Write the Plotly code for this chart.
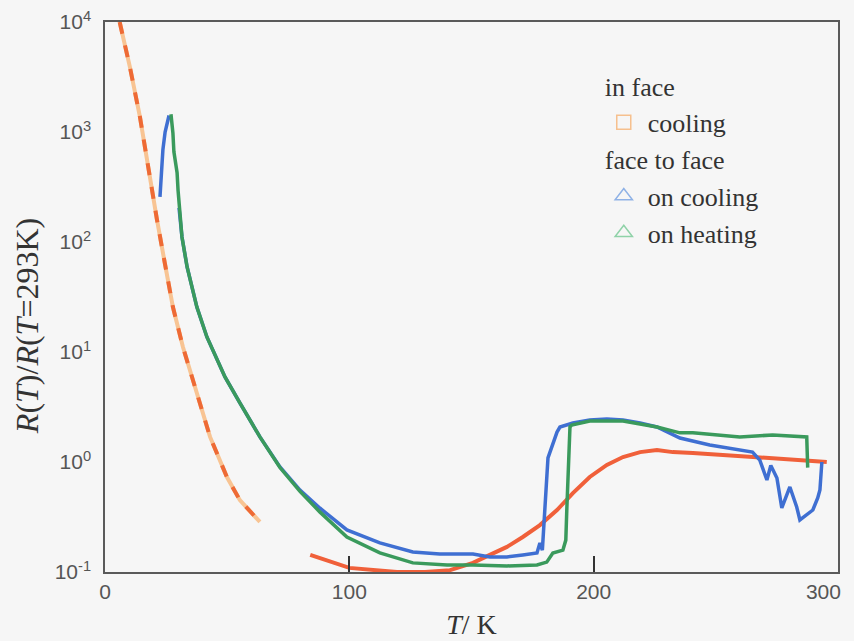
import plotly.graph_objects as go

# ---------------- data ----------------
# in face, cooling: low-temperature segment
inface_T_low = [6, 10.2, 14.3, 18.4, 21.3, 24.5, 27.8, 31.9, 34.8, 38.9, 43.0, 49.9, 55.2, 63.4]
inface_R_low = [10000, 3890, 1370, 366, 158, 64, 25.6, 11.1, 6.9, 3.44, 1.69, 0.73, 0.45, 0.285]

# in face, cooling: high-temperature segment
inface_T_high = [84, 100, 119.5, 131, 141.2, 150.6, 157.5, 164.5, 171, 178, 185, 191.5, 198.4,
                 205.4, 212, 219, 225.9, 232.4, 240.6, 268, 295.4]
inface_R_high = [0.143, 0.109, 0.100, 0.100, 0.104, 0.121, 0.143, 0.169, 0.208, 0.267, 0.366,
                 0.522, 0.731, 0.94, 1.11, 1.23, 1.285, 1.23, 1.21, 1.09, 1.0]

# face to face, on cooling
f2f_cool_T = [22.5, 23.7, 24.6, 26.2, None, 30.3, 31.5, 33.6, 37.6, 41.7, 49.1, 55.2, 63.4, 71.6,
              79.8, 88, 99, 112.5, 126, 137, 150.6, 157.5, 164.5, 171, 176.8, 178, 179, 181.3,
              183, 185, 186.2, 191.5, 198.4, 205.4, 212, 219, 225.9, 235.3, 247.5, 265, 268,
              270.9, 272.5, 275, 277, 280.3, 283.1, 284.4, 289.7, 291.7, 292.6, 293.4]
f2f_cool_R = [257, 692, 1000, 1413, None, 204, 111, 59.3, 25.6, 13.7, 5.93, 3.44, 1.69, 0.902,
              0.556, 0.38, 0.241, 0.184, 0.152, 0.146, 0.146, 0.137, 0.137, 0.143, 0.149, 0.184,
              0.158, 1.09, 1.37, 1.87, 2.08, 2.26, 2.41, 2.46, 2.41, 2.26, 2.08, 1.65, 1.43, 1.23,
              1.04, 0.686, 0.93, 0.716, 0.382, 0.593, 0.39, 0.297, 0.366, 0.471, 0.556, 1.0]

# face to face, on heating
f2f_heat_T = [27.0, 27.4, 27.8, 28.2, 29.5, 29.9, 31.5, 33.6, 37.6, 41.7, 49.1, 55.2, 63.4, 71.6,
              79.8, 88, 99, 112.5, 126, 140, 150.6, 164.5, 176.8, 180.8, 183.3, 187.4, 188.6,
              189, 190.3, 191, 198.4, 212, 225.9, 235.3, 240.6, 259.8, 273.3, 287.2, 287.6]
f2f_heat_R = [1450, 1230, 977, 661, 427, 295, 111, 59.3, 25.6, 13.7, 5.93, 3.44, 1.69, 0.89,
              0.54, 0.35, 0.208, 0.149, 0.121, 0.116, 0.116, 0.1135, 0.116, 0.123, 0.149, 0.158,
              0.195, 0.366, 2.08, 2.17, 2.36, 2.36, 2.08, 1.84, 1.84, 1.69, 1.76, 1.69, 0.89]

x_ticks = [0, 100, 200, 300]
x_ticktext = ["0", "100", "200", "300\u00a0\u00a0\u00a0\u00a0\u00a0"]
y_ticks = [0.1, 1, 10, 100, 1000, 10000]
y_ticktext = ["10<sup>-1</sup>", "10<sup>0</sup>", "10<sup>1</sup>", "10<sup>2</sup>",
              "10<sup>3</sup>", "10<sup>4</sup>"]

# ---------------- figure ----------------
fig = go.Figure()

# in face cooling (low T): light orange under a darker dashed orange
fig.add_trace(go.Scatter(x=inface_T_low, y=inface_R_low, mode="lines",
                         line=dict(color="#f8c493", width=4), showlegend=False, hoverinfo="skip"))
fig.add_trace(go.Scatter(x=inface_T_low, y=inface_R_low, mode="lines",
                         line=dict(color="#ee6a35", width=4, dash="dash"), showlegend=False))
# in face cooling (high T)
fig.add_trace(go.Scatter(x=inface_T_high, y=inface_R_high, mode="lines",
                         line=dict(color="#f0603a", width=4), showlegend=False))
# face to face, on cooling
fig.add_trace(go.Scatter(x=f2f_cool_T, y=f2f_cool_R, mode="lines",
                         line=dict(color="#3f6fd2", width=3.5), showlegend=False))
# face to face, on heating
fig.add_trace(go.Scatter(x=f2f_heat_T, y=f2f_heat_R, mode="lines",
                         line=dict(color="#3a9a5c", width=3.5), showlegend=False))

# legend entries
fig.add_trace(go.Scatter(x=[None], y=[None], mode="markers", name="cooling",
                         marker=dict(symbol="square-open", size=14, color="#f6c08e",
                                     line=dict(width=1.5)),
                         legendgroup="in", legendgrouptitle=dict(text="in face")))
fig.add_trace(go.Scatter(x=[None], y=[None], mode="markers", name="on cooling",
                         marker=dict(symbol="triangle-up-open", size=15, color="#8fb2e6",
                                     line=dict(width=1.5)),
                         legendgroup="f2f", legendgrouptitle=dict(text="face to face")))
fig.add_trace(go.Scatter(x=[None], y=[None], mode="markers", name="on heating",
                         marker=dict(symbol="triangle-up-open", size=15, color="#8fd2a8",
                                     line=dict(width=1.5)),
                         legendgroup="f2f"))

axis_line = "#5a5a5a"
tick_font = dict(family="Liberation Sans Narrow, Liberation Sans, Arial", size=21, color="#555555")
fig.update_layout(
    width=854, height=641,
    margin=dict(l=105, r=16, t=22, b=69, autoexpand=False),
    paper_bgcolor="#f6f6f6", plot_bgcolor="#f6f6f6",
    showlegend=True,
    legend=dict(x=0.675, y=0.927, xanchor="left", yanchor="top",
                bgcolor="rgba(0,0,0,0)", tracegroupgap=0, itemwidth=38,
                font=dict(family="Liberation Serif", size=26, color="#333333"),
                grouptitlefont=dict(family="Liberation Serif", size=26, color="#333333")),
    xaxis=dict(range=[0, 300], tickvals=x_ticks, ticktext=x_ticktext, ticks="inside",
               ticklen=16, tickwidth=2, ticklabeloverflow="allow",
               tickcolor="#333333", showline=True, linecolor=axis_line, linewidth=1.5,
               mirror=True, showgrid=False, zeroline=False, tickfont=tick_font,
               automargin=False,
               title=dict(text="<i>T</i>/ K", standoff=12,
                          font=dict(family="Liberation Serif", size=28, color="#333333"))),
    yaxis=dict(type="log", range=[-1, 4], tickvals=y_ticks, ticktext=y_ticktext, ticks="",
               ticklabelstandoff=8, automargin=False,
               showline=True, linecolor=axis_line, linewidth=1.5, mirror=True,
               showgrid=False, zeroline=False, tickfont=tick_font),
    annotations=[dict(text="<i>R</i>(<i>T</i>)/<i>R</i>(<i>T</i>=293K)", textangle=-90,
                      xref="paper", yref="paper", x=-0.1064, y=0.447,
                      xanchor="center", yanchor="middle", showarrow=False,
                      font=dict(family="Liberation Serif", size=32, color="#333333"))],
)

fig.write_html("out.html")
